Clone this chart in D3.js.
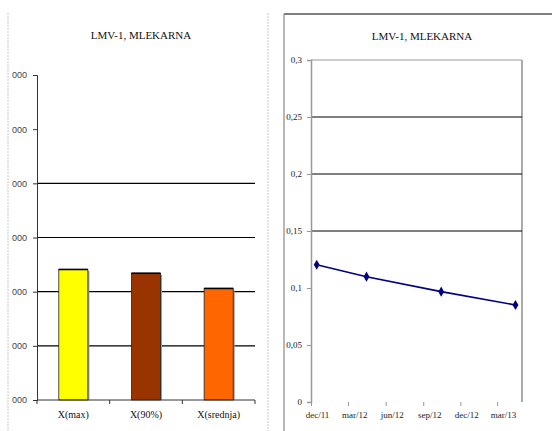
<!DOCTYPE html>
<html>
<head>
<meta charset="utf-8">
<script src="https://cdn.jsdelivr.net/npm/d3@7"></script>
<style>
  html, body { margin: 0; padding: 0; background: #fff; }
  svg { display: block; }
  .serif { font-family: "Liberation Serif", "Times New Roman", Times, "DejaVu Serif", serif; }
  .sans { font-family: "Liberation Sans", Arial, sans-serif; }
</style>
</head>
<body>
<svg id="chart" width="552" height="431"></svg>
<script>
// Left panel: summary statistics bars
const barCategories = ["X(max)", "X(90%)", "X(srednja)"];
const barValues = [2.41, 2.34, 2.06];
const barColors = ["#ffff00", "#993300", "#ff6600"];
const barTicks = [0, 1, 2, 3, 4, 5, 6];
const barTickLabels = ["000", "000", "000", "000", "000", "000", "000"];
const barGridValues = [1, 2, 3, 4];

// Right panel: measurements over time
const lineDates = ["2011-12-15", "2012-04-15", "2012-10-15", "2013-04-15"];
const lineValues = [0.1204, 0.1099, 0.0968, 0.0851];
const lineTicks = [0, 0.05, 0.1, 0.15, 0.2, 0.25, 0.3];
const lineGridValues = [0.15, 0.2, 0.25];
const monthNames = ["jan", "feb", "mar", "apr", "maj", "jun", "jul", "avg", "sep", "okt", "nov", "dec"];
const chartTitle = "LMV-1, MLEKARNA";

const svg = d3.select("#chart");

// ---------- Left panel ----------
const L = { left: 37, right: 255, top: 75, bottom: 400 };

// panel frame (light dashed sides)
[8, 268].forEach(x => {
  svg.append("line")
    .attr("x1", x).attr("x2", x).attr("y1", 13).attr("y2", 431)
    .attr("stroke", "#c8c8c8").attr("stroke-width", 1)
    .attr("stroke-dasharray", "2,1");
});

svg.append("text")
  .attr("class", "serif")
  .attr("x", 141).attr("y", 39)
  .attr("text-anchor", "middle")
  .attr("font-size", 11)
  .attr("fill", "#111")
  .text(chartTitle);

const xBand = d3.scaleBand().domain(barCategories).range([L.left, L.right]).paddingInner(0.6).paddingOuter(0.3);
const yBar = d3.scaleLinear().domain([0, 6]).range([L.bottom, L.top]);

// gridlines
svg.append("g").selectAll("line").data(barGridValues).join("line")
  .attr("x1", L.left).attr("x2", L.right)
  .attr("y1", d => yBar(d)).attr("y2", d => yBar(d))
  .attr("stroke", "#000").attr("stroke-width", 1.2);

// y axis
const yAxisL = d3.axisLeft(yBar).tickValues(barTicks).tickSize(4).tickPadding(6)
  .tickFormat((d, i) => barTickLabels[i]);
const gyL = svg.append("g").attr("transform", `translate(${L.left},0)`).call(yAxisL);
gyL.attr("font-family", null);
gyL.select(".domain").attr("stroke", "#333");
gyL.selectAll(".tick line").attr("stroke", "#333");
gyL.selectAll("text").attr("class", "sans").attr("font-size", 9).attr("fill", "#444");

// bars
const barG = svg.append("g");
barG.selectAll("rect.shadow").data(barValues).join("rect")
  .attr("class", "shadow")
  .attr("x", (d, i) => xBand(barCategories[i]) + 1.5)
  .attr("y", d => yBar(d) + 1.5)
  .attr("width", xBand.bandwidth())
  .attr("height", d => yBar(0) - yBar(d) - 1.5)
  .attr("fill", "#9a9a9a");
barG.selectAll("rect.bar").data(barValues).join("rect")
  .attr("class", "bar")
  .attr("x", (d, i) => xBand(barCategories[i]))
  .attr("y", d => yBar(d))
  .attr("width", xBand.bandwidth())
  .attr("height", d => yBar(0) - yBar(d))
  .attr("fill", (d, i) => barColors[i])
  .attr("stroke", "#222").attr("stroke-width", 0.8);
// heavier top edge
barG.selectAll("line.top").data(barValues).join("line")
  .attr("class", "top")
  .attr("x1", (d, i) => xBand(barCategories[i]))
  .attr("x2", (d, i) => xBand(barCategories[i]) + xBand.bandwidth())
  .attr("y1", d => yBar(d)).attr("y2", d => yBar(d))
  .attr("stroke", "#000").attr("stroke-width", 1.6);

// x axis
const xStep = (L.right - L.left) / barCategories.length;
const catTicks = d3.range(barCategories.length + 1).map(i => L.left + i * xStep);
svg.append("line")
  .attr("x1", L.left).attr("x2", L.right).attr("y1", L.bottom).attr("y2", L.bottom)
  .attr("stroke", "#333");
svg.append("g").selectAll("line").data(catTicks).join("line")
  .attr("x1", d => d).attr("x2", d => d)
  .attr("y1", L.bottom).attr("y2", L.bottom + 4)
  .attr("stroke", "#333");
svg.append("g").selectAll("text").data(barCategories).join("text")
  .attr("class", "serif")
  .attr("x", d => xBand(d) + xBand.bandwidth() / 2)
  .attr("y", 418)
  .attr("text-anchor", "middle")
  .attr("font-size", 10)
  .attr("fill", "#111")
  .text(d => d);

// ---------- Right panel ----------
const R = { left: 311, right: 522, top: 60, bottom: 402 };

svg.append("line").attr("x1", 284).attr("x2", 552).attr("y1", 14).attr("y2", 14)
  .attr("stroke", "#000").attr("stroke-width", 1.2);
svg.append("line").attr("x1", 284).attr("x2", 284).attr("y1", 14).attr("y2", 431)
  .attr("stroke", "#888").attr("stroke-width", 1.2);

svg.append("text")
  .attr("class", "serif")
  .attr("x", 422).attr("y", 40)
  .attr("text-anchor", "middle")
  .attr("font-size", 11)
  .attr("fill", "#111")
  .text(chartTitle);

const parse = d3.timeParse("%Y-%m-%d");
const dates = lineDates.map(parse);
const xStart = new Date(2011, 11, 1), xEnd = new Date(2013, 4, 1);
const xTime = d3.scaleTime().domain([xStart, xEnd]).range([R.left, R.right]);
const yLine = d3.scaleLinear().domain([0, 0.3]).range([R.bottom, R.top]);

// plot area border (top and right)
svg.append("line").attr("x1", R.left).attr("x2", R.right).attr("y1", R.top).attr("y2", R.top)
  .attr("stroke", "#999").attr("stroke-width", 1.2);
svg.append("line").attr("x1", R.right).attr("x2", R.right).attr("y1", R.top).attr("y2", R.bottom)
  .attr("stroke", "#aaa").attr("stroke-width", 2);

// gridlines
svg.append("g").selectAll("line").data(lineGridValues).join("line")
  .attr("x1", R.left).attr("x2", R.right)
  .attr("y1", d => yLine(d)).attr("y2", d => yLine(d))
  .attr("stroke", "#000").attr("stroke-width", 1.2);

const fmtComma = d => d === 0 ? "0" : String(d).replace(".", ",");
const yAxisR = d3.axisLeft(yLine).tickValues(lineTicks).tickSize(4).tickPadding(5).tickFormat(fmtComma);
const gyR = svg.append("g").attr("transform", `translate(${R.left},0)`).call(yAxisR);
gyR.attr("font-family", null);
gyR.select(".domain").attr("stroke", "#999").attr("stroke-width", 1.5);
gyR.selectAll(".tick line").attr("stroke", "#999");
gyR.selectAll("text").attr("class", "serif").attr("font-size", 9).attr("fill", "#222");

// quarterly ticks starting at the first month of the axis
const quarterTicks = d3.timeMonth.range(xStart, xEnd).filter((d, i) => i % 3 === 0);
const xAxisR = d3.axisBottom(xTime).tickValues(quarterTicks).tickSize(4).tickPadding(6)
  .tickFormat(d => monthNames[d.getMonth()] + "/" + d3.timeFormat("%y")(d));
const gxR = svg.append("g").attr("transform", `translate(0,${R.bottom})`).call(xAxisR);
gxR.attr("font-family", null);
gxR.select(".domain").remove();
gxR.selectAll(".tick line").attr("stroke", "#999").attr("y1", 0);
gxR.selectAll("text").attr("class", "serif").attr("font-size", 9).attr("fill", "#222")
  .attr("dx", 6);

// series line and diamond markers
const line = d3.line().x((d, i) => xTime(dates[i])).y(d => yLine(d));
svg.append("path").datum(lineValues)
  .attr("d", line)
  .attr("fill", "none").attr("stroke", "#000080").attr("stroke-width", 1.6);
svg.append("g").selectAll("path").data(lineValues).join("path")
  .attr("transform", (d, i) => `translate(${xTime(dates[i])},${yLine(d)})`)
  .attr("d", d3.symbol(d3.symbolDiamond, 30))
  .attr("fill", "#000080");
</script>
</body>
</html>
